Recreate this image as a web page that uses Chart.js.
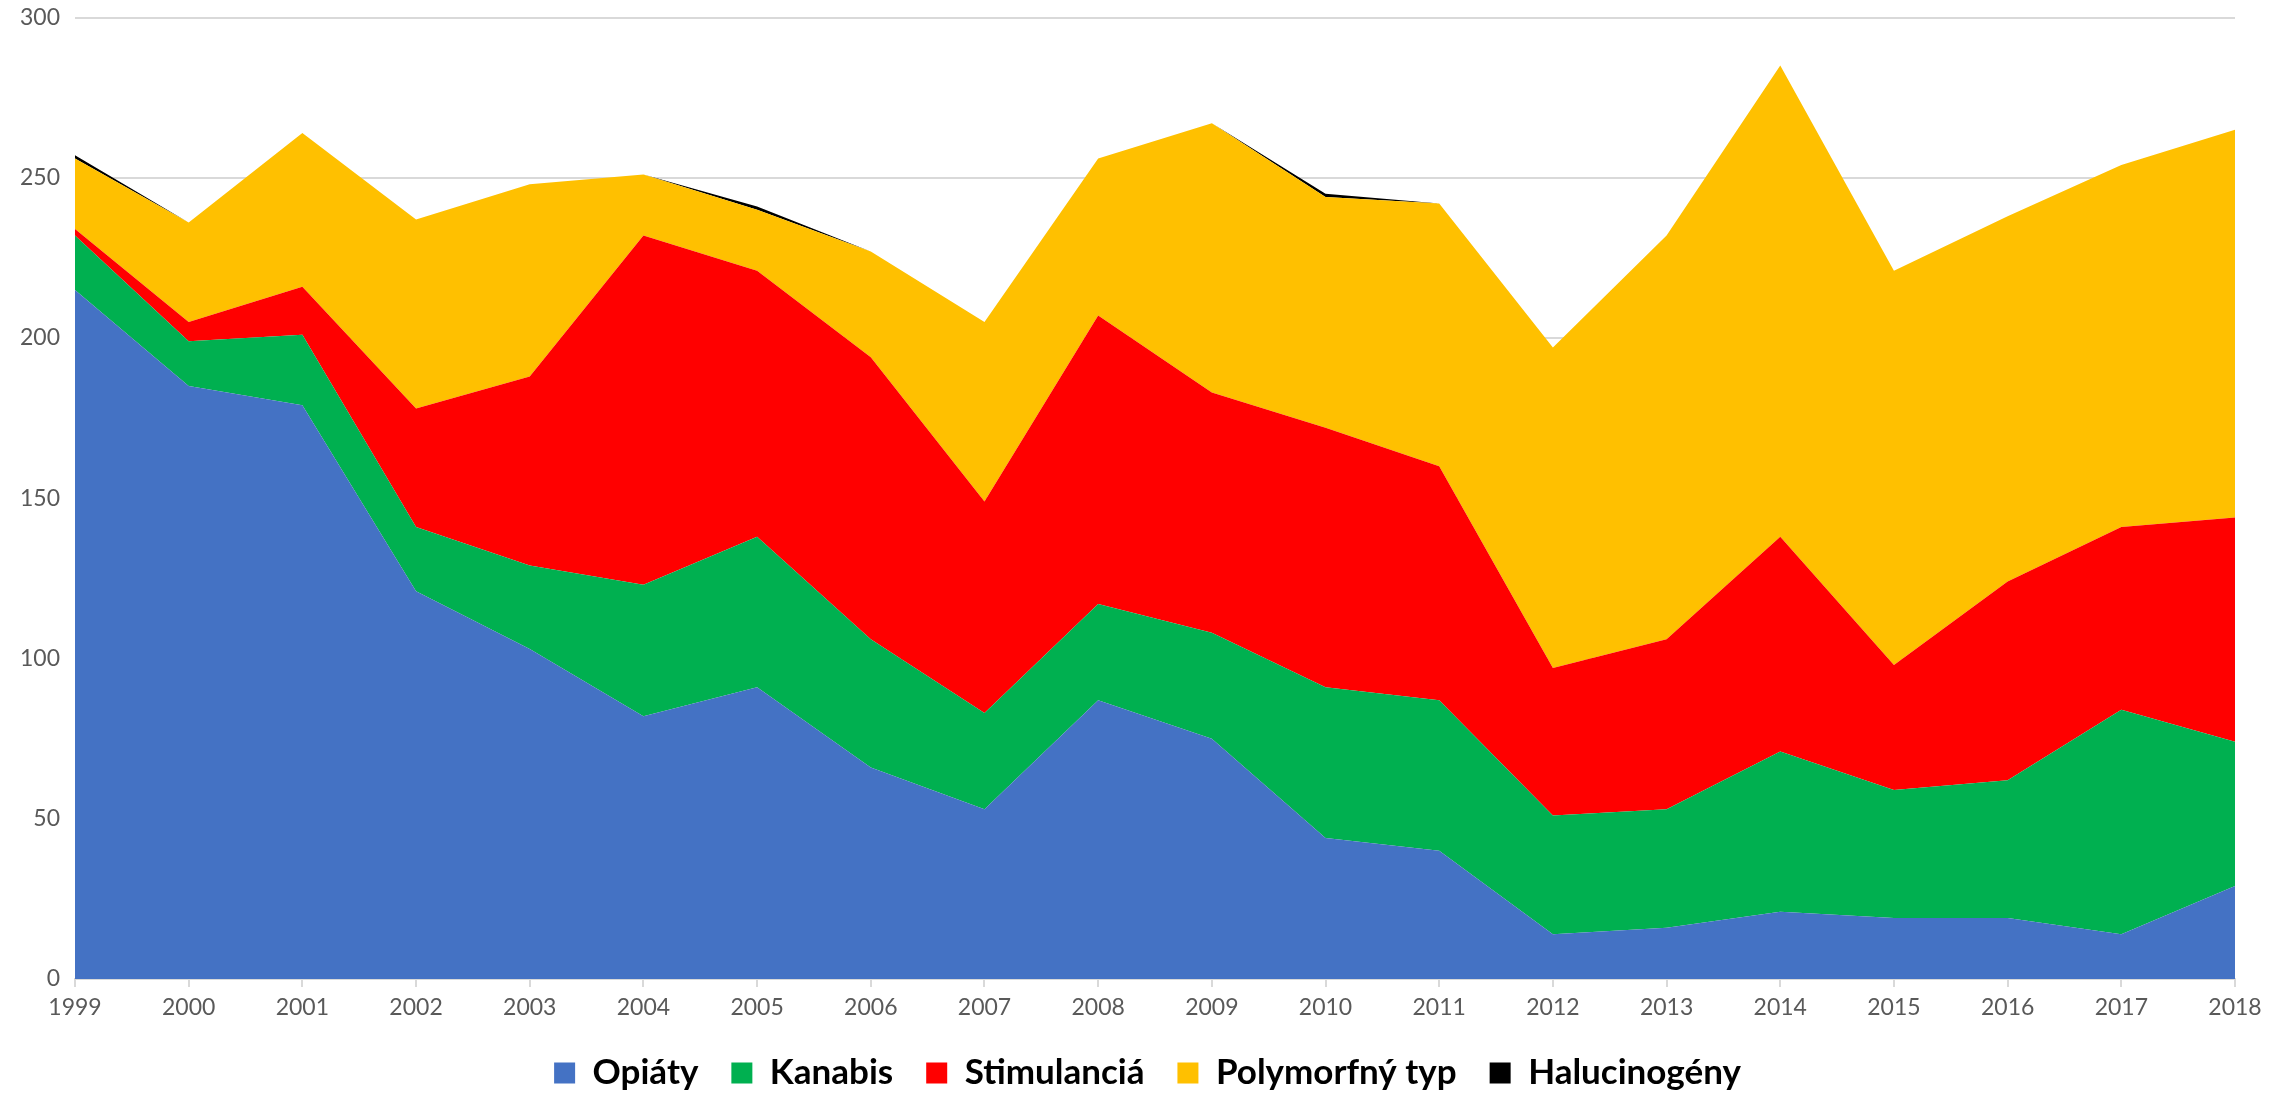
<!DOCTYPE html>
<html>
<head>
<meta charset="utf-8">
<script src="https://cdn.jsdelivr.net/npm/chart.js@4/dist/chart.umd.min.js"></script>
<style>
  html, body { margin: 0; padding: 0; background: #ffffff; }
  #wrap { width: 2295px; height: 1093px; position: relative; }
</style>
</head>
<body>
<div id="wrap"><canvas id="c" width="2295" height="1093"></canvas></div>
<script>
const years = ['1999','2000','2001','2002','2003','2004','2005','2006','2007','2008','2009','2010','2011','2012','2013','2014','2015','2016','2017','2018'];
const opiaty       = [215,185,179,121,103, 82, 91, 66, 53, 87, 75, 44, 40, 14, 16, 21, 19, 19, 14, 29];
const kanabis      = [ 17, 14, 22, 20, 26, 41, 47, 40, 30, 30, 33, 47, 47, 37, 37, 50, 40, 43, 70, 45];
const stimulancia  = [  2,  6, 15, 37, 59,109, 83, 88, 66, 90, 75, 81, 73, 46, 53, 67, 39, 62, 57, 70];
const polymorfny   = [ 22, 31, 48, 59, 60, 19, 19, 33, 56, 49, 84, 72, 82,100,126,147,123,114,113,121];
const halucinogeny = [  1,  0,  0,  0,  0,  0,  1,  0,  0,  0,  0,  1,  0,  0,  0,  0,  0,  0,  0,  0];
const yTicks = [0, 50, 100, 150, 200, 250, 300];

const seriesNames  = ['Opiáty','Kanabis','Stimulanciá','Polymorfný typ','Halucinogény'];
const seriesData   = [opiaty, kanabis, stimulancia, polymorfny, halucinogeny];
const seriesColors = ['#4472C4','#00B050','#FF0000','#FFC000','#000000'];

const datasets = seriesNames.map((name, i) => ({
  label: name,
  data: seriesData[i],
  backgroundColor: seriesColors[i],
  borderColor: seriesColors[i],
  borderWidth: 0,
  pointRadius: 0,
  pointHoverRadius: 0,
  tension: 0,
  fill: i === 0 ? 'origin' : '-1'
}));

new Chart(document.getElementById('c'), {
  type: 'line',
  data: { labels: years, datasets },
  options: {
    responsive: false,
    animation: false,
    layout: { padding: { left: 0, right: 0, top: 17.5, bottom: -7.5 } },
    plugins: {
      tooltip: { enabled: false },
      legend: {
        position: 'bottom',
        labels: {
          boxWidth: 21,
          boxHeight: 21,
          padding: 33,
          color: '#000000',
          font: { family: 'Lato', size: 35, weight: 'bold' }
        }
      }
    },
    scales: {
      x: {
        offset: false,
        afterFit: (scale) => { scale.height = 43.5; },
        grid: { drawOnChartArea: false, drawTicks: true, tickLength: 8, color: '#d9d9d9', lineWidth: 2 },
        border: { display: true, color: '#d9d9d9', width: 2 },
        ticks: { color: '#595959', font: { family: 'Lato', size: 23 }, padding: 7, maxRotation: 0, autoSkip: false }
      },
      y: {
        stacked: true,
        min: 0,
        max: 300,
        afterFit: (scale) => { scale.width = 75; scale.paddingTop = 0; },
        afterBuildTicks: (scale) => { scale.ticks = yTicks.map(v => ({ value: v })); },
        grid: { drawTicks: false, color: (ctx) => ctx.tick && ctx.tick.value === 0 ? 'rgba(0,0,0,0)' : '#d9d9d9', lineWidth: 2 },
        border: { display: false },
        ticks: { color: '#595959', font: { family: 'Lato', size: 23 }, padding: 15 }
      },
      yRight: {
        position: 'right',
        min: 0,
        max: 300,
        afterFit: (scale) => { scale.width = 60; scale.paddingTop = 0; },
        grid: { display: false, drawOnChartArea: false },
        border: { display: false },
        ticks: { display: false }
      }
    }
  }
});
</script>
</body>
</html>
